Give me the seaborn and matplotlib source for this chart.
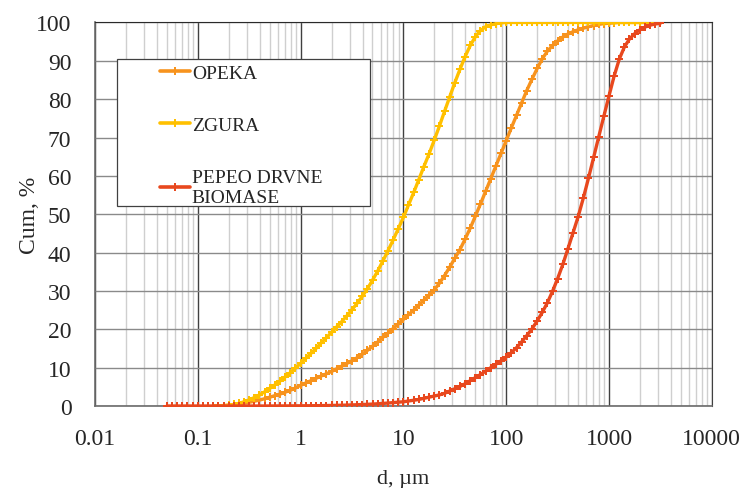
import pandas as pd
import seaborn as sns
import matplotlib.pyplot as plt
from matplotlib.patches import Rectangle
from matplotlib.ticker import LogLocator, NullFormatter, FixedLocator

# velicine cestica, um (klase po 20 na dekadu)
size_um = [0.0501, 0.0562, 0.0631, 0.0708, 0.0794, 0.0891,
           0.1, 0.112, 0.126, 0.141, 0.158, 0.178, 0.2, 0.224, 0.251, 0.282,
           0.316, 0.355, 0.398, 0.447, 0.501, 0.562, 0.631, 0.708, 0.794, 0.891,
           1.0, 1.12, 1.26, 1.41, 1.58, 1.78, 2.0, 2.24, 2.51, 2.82,
           3.16, 3.55, 3.98, 4.47, 5.01, 5.62, 6.31, 7.08, 7.94, 8.91,
           10.0, 11.2, 12.6, 14.1, 15.8, 17.8, 20.0, 22.4, 25.1, 28.2,
           31.6, 35.5, 39.8, 44.7, 50.1, 56.2, 63.1, 70.8, 79.4, 89.1,
           100, 112, 126, 141, 158, 178, 200, 224, 251, 282,
           316, 355, 398, 447, 501, 562, 631, 708, 794, 891,
           1000, 1120, 1260, 1410, 1580, 1780, 2000, 2240, 2510, 2820, 3160]

opeka = [None, None, None, None, None, None,
         None, None, None, 0, 0.05, 0.1, 0.2, 0.3, 0.5, 0.7,
         0.95, 1.25, 1.55, 1.9, 2.3, 2.7, 3.1, 3.6, 4.1, 4.7,
         5.4, 6.0, 6.6, 7.2, 7.8, 8.4, 9.0, 9.7, 10.4, 11.1,
         11.8, 12.6, 13.5, 14.5, 15.6, 16.7, 17.9, 19.0, 20.2, 21.4,
         22.6, 23.8, 25.0, 26.3, 27.6, 28.9, 30.3, 32.0, 34.0, 36.2,
         38.5, 40.8, 43.5, 46.4, 49.5, 52.7, 56.0, 59.3, 62.6, 65.9,
         69.2, 72.5, 75.8, 79.0, 82.2, 85.2, 88.0, 90.5, 92.5, 94.0,
         95.2, 96.2, 97.0, 97.6, 98.1, 98.5, 98.9, 99.2, 99.5, 99.7,
         99.8, 99.9, 100, 100, 100, 100, 100, 100, 100, 100, 100]

zgura = [None, None, None, None, None, None,
         None, None, None, 0, 0.05, 0.1, 0.2, 0.4, 0.7, 1.1,
         1.6, 2.2, 2.9, 3.7, 4.6, 5.5, 6.5, 7.6, 8.7, 9.9,
         11.1, 12.4, 13.7, 15.0, 16.4, 17.8, 19.2, 20.6, 22.0, 23.5,
         25.1, 26.8, 28.6, 30.6, 32.8, 35.2, 37.8, 40.5, 43.3, 46.2,
         49.2, 52.4, 55.7, 59.0, 62.4, 65.8, 69.4, 73.0, 76.8, 80.6,
         84.3, 87.8, 91.1, 94.0, 96.3, 97.9, 98.9, 99.4, 99.7, 99.9,
         100, 100, 100, 100, 100, 100, 100, 100, 100, 100,
         100, 100, 100, 100, 100, 100, 100, 100, 100, 100,
         100, 100, 100, 100, 100, 100, 100, 100, 100, 100, 100]

pepeo = [0, 0, 0, 0, 0, 0,
         0, 0, 0, 0, 0, 0, 0, 0, 0, 0,
         0, 0, 0, 0, 0.01, 0.01, 0.02, 0.02, 0.03, 0.04,
         0.05, 0.06, 0.07, 0.08, 0.1, 0.12, 0.14, 0.17, 0.2, 0.24,
         0.28, 0.33, 0.38, 0.44, 0.5, 0.58, 0.67, 0.77, 0.88, 1.0,
         1.1, 1.3, 1.5, 1.7, 2.0, 2.3, 2.6, 2.9, 3.3, 3.9,
         4.5, 5.1, 5.8, 6.6, 7.4, 8.2, 9.1, 10.0, 10.9, 11.8,
         12.8, 13.9, 15.2, 16.7, 18.3, 20.1, 22.2, 24.4, 26.9, 29.9,
         33.2, 36.9, 41.0, 45.2, 49.4, 54.2, 59.4, 64.8, 70.2, 75.6,
         80.9, 86.0, 90.5, 93.6, 95.7, 97.1, 98.1, 98.8, 99.3, 99.6, 99.8]

series_names = ['OPEKA', 'ZGURA', 'PEPEO DRVNE\nBIOMASE']
colors = ['#F7931E', '#FFC000', '#E8481E']
x_ticks = [0.01, 0.1, 1, 10, 100, 1000, 10000]
x_tick_labels = ['0.01', '0.1', '1', '10', '100', '1000', '10000']
y_ticks = [0, 10, 20, 30, 40, 50, 60, 70, 80, 90, 100]

frames = []
for name, vals in zip(series_names, [opeka, zgura, pepeo]):
    frames.append(pd.DataFrame({'d': size_um, 'cum': vals, 'uzorak': name}))
df = pd.concat(frames).dropna()
df['cum'] = df['cum'].astype(float)

sns.set_style('white')
plt.rcParams['font.family'] = ['Liberation Serif', 'DejaVu Serif']

fig = plt.figure(figsize=(7.45, 4.89), dpi=100)
ax = fig.add_axes([0.1275, 0.1677, 0.828, 0.7843])

sns.lineplot(data=df, x='d', y='cum', hue='uzorak', hue_order=series_names,
             palette=colors, marker='P', markersize=5.5, markeredgewidth=0,
             linewidth=2.4, ax=ax, zorder=3)

ax.set_xscale('log')
ax.set_xlim(0.01, 10000)
ax.set_ylim(0, 100)
ax.xaxis.set_major_locator(FixedLocator(x_ticks))
ax.set_xticklabels(x_tick_labels)
ax.xaxis.set_minor_locator(LogLocator(base=10, subs=range(2, 10), numticks=20))
ax.xaxis.set_minor_formatter(NullFormatter())
ax.set_yticks(y_ticks)

ax.grid(False)
ax.grid(axis='y', which='major', color='#8a8a8a', linewidth=1.0)
ax.grid(axis='x', which='major', color='#404040', linewidth=1.0)
ax.grid(axis='x', which='minor', color='#cfcfcf', linewidth=1.0)
ax.set_axisbelow(True)

ax.tick_params(axis='x', which='major', length=7, width=1, color='#595959',
               direction='out', pad=9, labelsize=17)
ax.tick_params(axis='x', which='minor', length=0)
ax.tick_params(axis='y', length=0, pad=17, labelsize=17)

for side in ['left', 'bottom']:
    ax.spines[side].set_color('#6b6b6b')
    ax.spines[side].set_linewidth(1.2)
ax.spines['top'].set_color('#2a2a2a')
ax.spines['right'].set_color('#404040')

ax.set_xlabel('d, µm', fontsize=16, labelpad=14)
ax.set_ylabel('Cum, %', fontsize=17, labelpad=-3)

# legenda u okviru
ax.add_patch(Rectangle((0.0357, 0.5215), 0.4097, 0.3833, transform=ax.transAxes,
                       facecolor='white', edgecolor='#404040', linewidth=0.9,
                       zorder=4))
handles, labels = ax.get_legend_handles_labels()
leg = ax.legend(handles, labels, loc='upper left', bbox_to_anchor=(0.105, 0.892),
                frameon=False, fontsize=14, handlelength=1.55, handletextpad=0.1,
                labelspacing=1.8, borderpad=0, borderaxespad=0)
for ln in leg.get_lines():
    ln.set_linewidth(2.6)
    ln.set_marker('P')
    ln.set_markersize(5.5)
    ln.set_markeredgewidth(0)
leg.set_zorder(5)

plt.savefig('out.png', dpi=100)
